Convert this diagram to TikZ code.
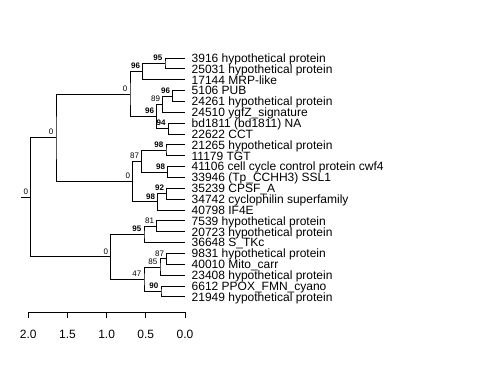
\documentclass[tikz,border=0pt]{standalone}
\usepackage{fontspec}
\setmainfont{Liberation Sans}
\usetikzlibrary{positioning,calc}
\tikzstyle{branch}=[draw=black, line width=0.75bp]
\tikzstyle{leaf}=[anchor=base west, inner sep=0pt, font=\fontsize{12bp}{12bp}\selectfont]
\tikzstyle{support}=[anchor=south east, inner sep=0pt, xshift=-2.5bp, yshift=2.5bp, font=\fontsize{8bp}{8bp}\selectfont]
\tikzstyle{strong}=[font=\fontsize{8bp}{8bp}\selectfont\bfseries]
\tikzstyle{ticklabel}=[anchor=base, inner sep=0pt, font=\fontsize{12bp}{12bp}\selectfont]
% one clade: name, x of the node, two children, support value, label style
\newcommand{\clade}[6]{%
  \path (#3) -- (#4) coordinate[midway] (#1m);
  \coordinate (#1x) at (#2,0);
  \coordinate (#1) at (#1m -| #1x);
  \draw[branch] (#3) -| (#1) |- (#4);
  \node[support,#6] (#1lbl) at (#1) {#5};
}

\begin{document}
\begin{tikzpicture}[x=1bp, y=-1bp]
  \useasboundingbox (0,0) rectangle (480,384);

  % tips and their labels
  \foreach \lbl [count=\i] in {
      {3916 hypothetical protein},
      {25031 hypothetical protein},
      {17144 MRP-like},
      {5106 PUB},
      {24261 hypothetical protein},
      {24510 ygfZ\_signature},
      {bd1811 (bd1811) NA},
      {22622 CCT},
      {21265 hypothetical protein},
      {11179 TGT},
      {41106 cell cycle control protein cwf4},
      {33946 (Tp\_CCHH3) SSL1},
      {35239 CPSF\_A},
      {34742 cyclophilin superfamily},
      {40798 IF4E},
      {7539 hypothetical protein},
      {20723 hypothetical protein},
      {36648 S\_TKc},
      {9831 hypothetical protein},
      {40010 Mito\_carr},
      {23408 hypothetical protein},
      {6612 PPOX\_FMN\_cyano},
      {21949 hypothetical protein}} {
    \coordinate (t\i) at (185, {58+(\i-1)*10.857});
    \node[leaf] (l\i) at ($(t\i)+(6.5,4.3)$) {\lbl};
  }

  % upper clade
  \clade{c95a}{165}{t1}{t2}{95}{strong}
  \clade{c96a}{142.7}{c95a}{t3}{96}{strong}
  \clade{c96b}{172.7}{t4}{t5}{96}{strong}
  \clade{c89}{162.7}{c96b}{t6}{89}{}
  \clade{c94}{168.3}{t7}{t8}{94}{strong}
  \clade{c96c}{156.7}{c89}{c94}{96}{strong}
  \clade{c0a}{130}{c96a}{c96c}{0}{}
  \clade{c98a}{166}{t9}{t10}{98}{strong}
  \clade{c98b}{167.7}{t11}{t12}{98}{strong}
  \clade{c87a}{141.7}{c98a}{c98b}{87}{}
  \clade{c92}{166.7}{t13}{t14}{92}{strong}
  \clade{c98c}{157.7}{c92}{t15}{98}{strong}
  \clade{c0b}{132.7}{c87a}{c98c}{0}{}
  \clade{c0c}{56}{c0a}{c0b}{0}{}

  % lower clade
  \clade{c81}{156.7}{t16}{t17}{81}{}
  \clade{c95b}{144}{c81}{t18}{95}{strong}
  \clade{c87b}{166.7}{t19}{t20}{87}{}
  \clade{c85}{160}{c87b}{t21}{85}{}
  \clade{c90}{161}{t22}{t23}{90}{strong}
  \clade{c47}{144}{c85}{c90}{47}{}
  \clade{c0d}{110.7}{c95b}{c47}{0}{}

  % root
  \clade{root}{30.7}{c0c}{c0d}{0}{}
  \coordinate (rootstub) at ($(root)+(-10,0)$);
  \draw[branch] (root) -- (rootstub);

  % scale bar
  \foreach \v [count=\k] in {2.0,1.5,1.0,0.5,0.0} {
    \coordinate (tick\k) at ({185-78.35*\v},312);
    \coordinate (tickend\k) at ({185-78.35*\v},318);
    \draw[branch] (tick\k) -- (tickend\k);
    \node[ticklabel] (tl\k) at ({185-78.35*\v},338.5) {\v};
  }
  \draw[branch] (tick1) -- (tick5);
\end{tikzpicture}
\end{document}
